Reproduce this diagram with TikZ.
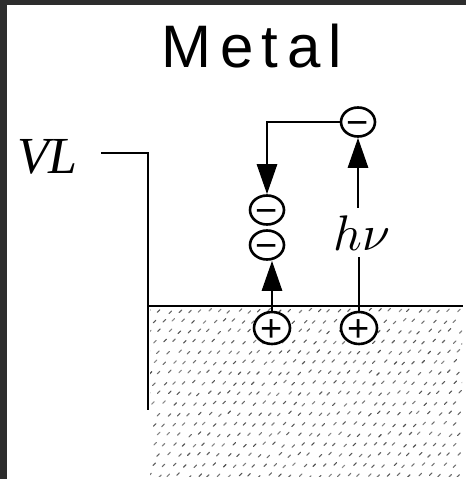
\documentclass[tikz,border=0pt]{standalone}
\usepackage{graphicx}
\usepackage{fontspec}
\setmainfont{Liberation Serif}
\newfontfamily\metalfont[LetterSpace=14]{Liberation Sans}
\newfontfamily\signfont{Liberation Sans}
\usetikzlibrary{arrows.meta,shapes.geometric}
\definecolor{framegray}{RGB}{45,45,45}
\newcommand{\chargesign}[1]{{\signfont\fontsize{38}{38}\selectfont\raisebox{-0.35em}{#1}}}
\begin{document}
\begin{tikzpicture}[x=1pt,y=-1pt,
  wire/.style={line width=2.8pt},
  arr/.style={wire,-{Triangle[length=30pt,width=20pt]}},
  chg/.style={draw,ellipse,line width=2.6pt,fill=white,inner sep=0pt,text height=0pt,text depth=0pt},
  minuschg/.style={chg,minimum width=34pt,minimum height=29pt},
  pluschg/.style={chg,minimum width=36pt,minimum height=32pt},
  stip/.style={black!55,line width=1.1pt,line cap=round}]
\useasboundingbox (0,0) rectangle (466,479);
\fill[white] (0,0) rectangle (466,479);
\fill[framegray] (0,0) rectangle (466,5);
\fill[framegray] (0,0) rectangle (7,479);

% stippled metal
\pgfmathsetseed{7}
\begin{scope}
\clip (150,308) rectangle (462,476);
\foreach \j in {0,...,16} {
  \foreach \i in {0,...,32} {
    \pgfmathsetmacro{\dx}{rand*1.5}
    \pgfmathsetmacro{\dy}{rand*1.5}
    \pgfmathsetmacro{\sh}{45+25*rnd}
    \draw[stip,black!\sh] ({148+\i*10+mod(\j,2)*5+\dx},{312+\j*10.3+\dy}) -- ++(2.5,-2.5);
  }
}
\end{scope}

% title
\node[anchor=base, font=\metalfont\fontsize{60}{60}\selectfont, inner sep=0pt] (title) at (252,67) {Metal};

% vacuum level
\node[anchor=base west, font=\itshape\fontsize{52}{52}\selectfont, inner sep=0pt] (VL) at (17,173) {VL};
\coordinate (vlstart) at (101,153);
\coordinate (vlbot) at (148,410);
\draw[wire] (vlstart) -| (vlbot);

% surface
\coordinate (sl) at (148,306);
\coordinate (sr) at (463,306);
\draw[wire] (sl) -- (sr);

% charges
\node[minuschg] (mA) at (358,122) {\chargesign{−}};
\node[minuschg] (mB) at (267,210) {\chargesign{−}};
\node[minuschg] (mC) at (267,245) {\chargesign{−}};
\node[pluschg] (pA) at (272,328) {\chargesign{+}};
\node[pluschg] (pB) at (359,328) {\chargesign{+}};

% photon label
\node[anchor=base, text height=35pt, text depth=0pt, inner xsep=0pt, inner ysep=7pt] (hv) at (362,250) {\scalebox{5}{$h\nu$}};

% connectors
\draw[wire] (pB.north) -- (pB.north |- hv.south);
\draw[arr] (mA.south |- hv.north) -- (mA.south);
\draw[arr] (mA.west) -| (mB.north);
\draw[arr] (pA.north) -- (pA.north |- mC.south);
\end{tikzpicture}
\end{document}
